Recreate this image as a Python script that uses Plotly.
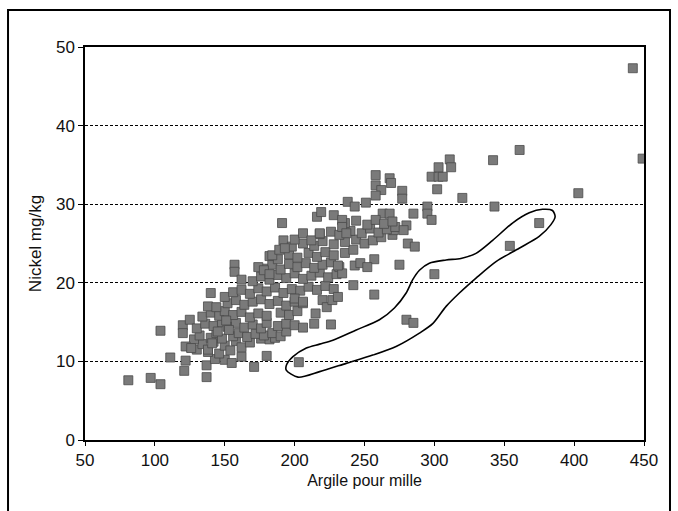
import plotly.graph_objects as go

# Clay content (per mille) and nickel content (mg/kg) of soil samples
argile = [
    81, 97, 104, 104, 111, 121, 122, 120, 120, 125, 137, 137, 140, 143, 150, 155, 162, 171, 180,
    157, 157, 162, 191, 192, 203, 214, 226, 216, 219, 228, 238, 243, 251, 258, 258, 262, 258,
    268, 269, 277, 277, 263, 268, 285, 295, 295, 298, 298, 303, 306, 302, 303, 311, 312, 320,
    342, 343, 361, 403, 442, 449, 375, 354, 300, 280, 285, 275, 257, 257, 242, 243, 247, 252,
    281, 286, 280, 270, 271,
    126, 130, 134, 138, 142, 146, 150, 154, 158, 162, 168, 176, 182, 186,
    128, 132, 140, 144, 148, 156, 160, 166, 172, 178, 184, 190, 194,
    130, 136, 142, 148, 152, 158, 164, 170, 176, 180, 188, 194, 200, 206,
    134, 140, 146, 150, 156, 162, 168, 174, 180, 190, 196, 202,
    138, 144, 152, 158, 164, 170, 176, 182, 188, 194, 200, 206,
    150, 156, 162, 168, 174, 180, 186, 192, 198, 204, 210, 216, 222, 228,
    170, 176, 182, 188, 194, 200, 206, 212, 218, 224, 230,
    178, 184, 190, 196, 202, 208, 214, 220, 226, 232,
    182, 188, 196, 202, 210, 216, 222, 228, 236, 242,
    198, 206, 214, 220, 228, 236, 244, 250, 256, 262,
    218, 226, 232, 240, 248, 254, 260, 266, 272, 278,
    236, 244, 252, 258, 264, 270,
    122, 126, 138, 141, 145, 151, 153, 200, 206, 215, 220, 223, 227, 231, 234, 231,
    174, 178, 182, 184, 189, 193, 200, 206, 212, 218, 234, 234, 237,
]
nickel = [
    7.6, 7.9, 7.1, 13.9, 10.5, 8.8, 10.1, 14.6, 13.6, 15.3, 8.0, 9.5, 18.7, 10.3, 10.2, 9.8, 10.6, 9.3, 10.7,
    22.3, 21.4, 20.4, 27.6, 25.4, 9.9, 14.8, 14.7, 28.4, 29.0, 28.6, 30.3, 29.7, 30.2, 33.7, 32.4, 31.8, 31.1,
    33.3, 32.7, 31.7, 30.7, 28.8, 28.8, 28.8, 29.7, 28.8, 28.0, 33.5, 33.5, 33.5, 31.9, 34.7, 35.7, 34.7, 30.8,
    35.6, 29.7, 36.9, 31.4, 47.3, 35.8, 27.6, 24.7, 21.1, 15.3, 14.9, 22.3, 18.5, 23.0, 19.7, 22.2, 22.5, 22.0,
    25.0, 24.6, 27.3, 26.1, 26.7,
    11.8, 11.5, 12.2, 11.2, 12.5, 11.0, 12.0, 11.4, 12.6, 11.8, 12.4, 12.9, 12.8, 13.0,
    12.8, 13.3, 13.0, 13.6, 12.9, 13.2, 13.6, 13.1, 13.5, 13.3, 13.6, 13.2, 13.8,
    14.2, 14.8, 14.5, 15.0, 14.4, 14.9, 14.3, 14.7, 14.2, 14.9, 14.5, 14.8, 14.6, 14.3,
    15.7, 16.2, 15.8, 16.4, 15.9, 16.3, 15.6, 16.1, 15.8, 16.2, 15.9, 16.4,
    17.0, 16.9, 17.4, 17.8, 17.2, 17.6, 17.9, 17.3, 17.7, 17.1, 17.6, 17.4,
    18.2, 18.8, 19.1, 18.6, 19.3, 18.9, 19.4, 18.7, 19.2, 19.0, 19.5, 19.1, 19.6, 19.2,
    20.2, 20.8, 20.4, 21.0, 20.6, 21.2, 20.5, 20.9, 21.3, 20.7, 21.1,
    21.8, 22.3, 21.7, 22.4, 22.0, 22.5, 21.9, 22.3, 22.6, 22.0,
    23.4, 23.0, 23.6, 23.2, 23.8, 23.3, 23.9, 23.5, 23.8, 24.2,
    24.6, 25.0, 24.7, 25.3, 24.9, 25.2, 25.5, 25.0, 25.4, 25.8,
    26.2, 26.5, 26.1, 26.6, 26.3, 26.9, 26.4, 26.8, 27.1, 26.7,
    27.6, 27.9, 27.4, 28.0, 27.5, 27.8,
    11.9, 11.7, 11.5, 12.3, 13.8, 15.2, 14.0, 18.0, 17.6, 16.1, 17.8, 16.9, 17.8, 18.2, 21.2, 22.2,
    22.0, 21.6, 21.1, 23.5, 24.2, 24.4, 25.5, 26.3, 25.4, 26.3, 28.0, 27.1, 26.3,
]

# Closed envelope drawn around the low-nickel group
env_x = [194.0, 202.4, 217.9, 236.9, 255.9, 272.6, 289.3, 298.8, 308.4, 317.9, 329.8, 344.1,
         360.7, 375.0, 383.4, 386.4, 384.5, 377.4, 367.9, 355.9, 341.7, 329.8, 319.0, 308.4,
         296.4, 289.3, 284.5, 279.8, 271.4, 260.7, 244.1, 227.4, 217.9, 208.4, 198.8, 194.1, 194.0]
env_y = [8.9, 8.0, 8.7, 9.75, 10.8, 11.9, 13.6, 14.8, 17.0, 18.7, 20.6, 22.7,
         24.4, 25.9, 27.4, 28.4, 29.2, 29.35, 28.9, 27.6, 25.4, 23.75, 23.1, 22.9,
         22.5, 21.6, 20.4, 18.7, 16.8, 15.3, 14.0, 12.7, 12.2, 11.7, 10.6, 9.5, 8.9]

x_ticks = [50, 100, 150, 200, 250, 300, 350, 400, 450]
y_ticks = [0, 10, 20, 30, 40, 50]

fig = go.Figure()
fig.add_trace(go.Scatter(
    x=argile, y=nickel, mode="markers",
    marker=dict(symbol="square", size=9, color="#7a7a7a",
                line=dict(color="#4a4a4a", width=0.8)),
    showlegend=False, hoverinfo="x+y",
))
fig.add_trace(go.Scatter(
    x=env_x, y=env_y, mode="lines",
    line=dict(color="black", width=1.6, shape="spline", smoothing=0.8),
    showlegend=False, hoverinfo="skip",
))

font = dict(family="Liberation Sans, Arial, sans-serif", size=16, color="#111")

fig.update_layout(
    width=678, height=511,
    margin=dict(l=85, r=34, t=47, b=71),
    paper_bgcolor="white", plot_bgcolor="white",
    font=font,
    xaxis=dict(
        range=[50, 450], tickvals=x_ticks, ticks="outside", ticklen=4, tickcolor="black",
        showgrid=False, zeroline=False, showline=True, linecolor="black", linewidth=1.5,
        mirror=True, title=dict(text="Argile pour mille", standoff=6, font=dict(size=16)),
        tickfont=dict(size=17),
    ),
    yaxis=dict(
        range=[0, 50], tickvals=y_ticks, ticks="outside", ticklen=5, tickcolor="black",
        showgrid=True, gridcolor="black", gridwidth=1, griddash="3px,2px",
        zeroline=False, showline=True, linecolor="black", linewidth=1.5,
        mirror=True, title=dict(text="Nickel mg/kg", standoff=10, font=dict(size=17)),
        tickfont=dict(size=17),
    ),
    shapes=[dict(
        type="rect", xref="paper", yref="paper",
        x0=-0.1377, x1=1.0465, y0=-0.19, y1=1.094,
        line=dict(color="black", width=2), fillcolor="rgba(0,0,0,0)", layer="above",
    )],
)

fig.write_html("out.html")
